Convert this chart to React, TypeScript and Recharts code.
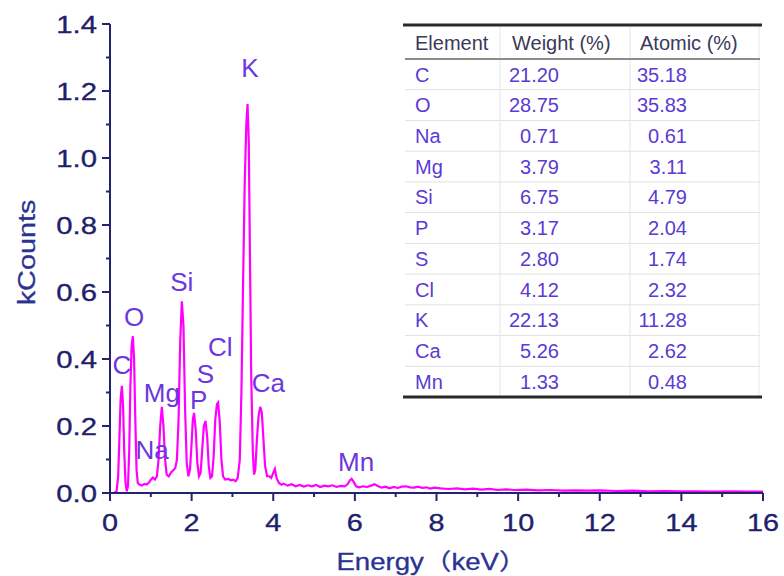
import React from "react";
import { ComposedChart, Line, XAxis, YAxis, ReferenceDot } from "recharts";

// ---- spectrum (energy keV, kCounts) ----
const energy = [
  0.0, 0.1, 0.16, 0.2, 0.23, 0.26, 0.29, 0.32, 0.35, 0.38, 0.41, 0.44, 0.47, 0.5, 0.53, 0.56, 0.59, 0.62, 0.65, 0.68,
  0.72, 0.78, 0.84, 0.9, 0.96, 1.0, 1.05, 1.1, 1.15, 1.19, 1.23, 1.27, 1.31, 1.35, 1.39, 1.44, 1.5, 1.55, 1.6, 1.64,
  1.68, 1.72, 1.76, 1.8, 1.84, 1.88, 1.92, 1.96, 2.0, 2.03, 2.06, 2.1, 2.14, 2.18, 2.22, 2.26, 2.3, 2.34, 2.38, 2.42,
  2.46, 2.5, 2.54, 2.58, 2.62, 2.65, 2.69, 2.73, 2.77, 2.82, 2.9, 2.96, 3.02, 3.08, 3.13, 3.18, 3.22, 3.26, 3.3, 3.34,
  3.37, 3.4, 3.43, 3.46, 3.5, 3.53, 3.56, 3.6, 3.64, 3.68, 3.72, 3.76, 3.8, 3.85, 3.9, 3.95, 4.0, 4.04, 4.08, 4.14,
  4.2, 4.25, 4.35, 4.45, 4.55, 4.65, 4.75, 4.85, 4.95, 5.05, 5.15, 5.25, 5.35, 5.45, 5.55, 5.65, 5.75, 5.82, 5.88, 5.92,
  5.97, 6.03, 6.1, 6.2, 6.3, 6.4, 6.48, 6.55, 6.65, 6.75, 6.85, 6.95, 7.05, 7.15, 7.25, 7.35, 7.45, 7.55, 7.65, 7.75,
  7.85, 7.95, 8.1, 8.3, 8.5, 8.7, 8.9, 9.1, 9.3, 9.5, 9.7, 9.9, 10.2, 10.5, 10.8, 11.1, 11.4, 11.7, 12.0, 12.4,
  12.8, 13.2, 13.6, 14.0, 14.4, 14.8, 15.2, 15.6, 16.0,
];
const kCounts = [
  0.0, 0.0, 0.005, 0.05, 0.16, 0.28, 0.32, 0.26, 0.12, 0.03, 0.005, 0.02, 0.12, 0.32, 0.44, 0.468, 0.4, 0.22, 0.07, 0.03,
  0.025, 0.022, 0.027, 0.025, 0.032, 0.04, 0.046, 0.04, 0.05, 0.1, 0.2, 0.257, 0.2, 0.1, 0.055, 0.05, 0.062, 0.068, 0.075, 0.1,
  0.22, 0.45, 0.572, 0.5, 0.25, 0.09, 0.05, 0.07, 0.15, 0.22, 0.239, 0.19, 0.09, 0.05, 0.06, 0.13, 0.2, 0.215, 0.17, 0.08,
  0.045, 0.05, 0.11, 0.22, 0.265, 0.27, 0.21, 0.1, 0.05, 0.04, 0.042, 0.038, 0.04, 0.035, 0.045, 0.1, 0.3, 0.62, 0.92, 1.1,
  1.161, 1.05, 0.7, 0.35, 0.12, 0.055, 0.07, 0.16, 0.23, 0.257, 0.24, 0.16, 0.08, 0.05, 0.05, 0.045, 0.06, 0.072, 0.045, 0.03,
  0.025, 0.028, 0.022, 0.026, 0.02, 0.024, 0.019, 0.023, 0.02, 0.024, 0.018, 0.022, 0.02, 0.023, 0.018, 0.021, 0.02, 0.026, 0.038, 0.042,
  0.033, 0.02, 0.017, 0.02, 0.018, 0.022, 0.026, 0.022, 0.016, 0.019, 0.014, 0.018, 0.015, 0.019, 0.02, 0.017, 0.016, 0.019, 0.015, 0.017,
  0.013, 0.016, 0.014, 0.012, 0.014, 0.011, 0.013, 0.01, 0.012, 0.009, 0.011, 0.009, 0.01, 0.008, 0.009, 0.007, 0.008, 0.007, 0.008, 0.006,
  0.007, 0.005, 0.006, 0.005, 0.005, 0.004, 0.005, 0.004, 0.004,
];

// ---- peak labels (energy, kCounts at label centre) ----
const peakNames = ["C", "O", "Na", "Mg", "Si", "P", "S", "Cl", "K", "Ca", "Mn"];
const peakLabelX = [0.29, 0.59, 1.03, 1.27, 1.76, 2.17, 2.34, 2.7, 3.43, 3.88, 6.03];
const peakLabelY = [0.381, 0.525, 0.128, 0.3, 0.63, 0.279, 0.356, 0.436, 1.27, 0.327, 0.093];

// ---- axis ticks ----
const xTicks = [0, 1, 2, 3, 4, 5, 6, 7, 8, 9, 10, 11, 12, 13, 14, 15, 16];
const yTicks = [0, 0.1, 0.2, 0.3, 0.4, 0.5, 0.6, 0.7, 0.8, 0.9, 1.0, 1.1, 1.2, 1.3, 1.4];

// ---- composition table ----
const tableHeader = ["Element", "Weight (%)", "Atomic (%)"];
const elements = ["C", "O", "Na", "Mg", "Si", "P", "S", "Cl", "K", "Ca", "Mn"];
const weightPct = ["21.20", "28.75", "0.71", "3.79", "6.75", "3.17", "2.80", "4.12", "22.13", "5.26", "1.33"];
const atomicPct = ["35.18", "35.83", "0.61", "3.11", "4.79", "2.04", "1.74", "2.32", "11.28", "2.62", "0.48"];

const spectrum = energy.map((e, i) => ({ e, c: kCounts[i] }));

const FONT = "'Liberation Sans', Arial, 'Noto Sans CJK SC', sans-serif";
const AXIS = "#23236f";
const TICK_TXT = "#1f1f6c";
const TITLE = "#2a3393";
const PEAK = "#6a38dc";
const LINE = "#ff00ff";
const TM = 10;

const XTick = (props: any) => {
  const { x, y, payload } = props;
  const v = payload.value;
  const major = v % 2 === 0;
  const axisY = y - TM;
  return (
    <g>
      <line x1={x} x2={x} y1={axisY} y2={axisY + (major ? 8 : 4)} stroke={AXIS} strokeWidth={2} />
      {major && (
        <text
          transform={`translate(${x},${axisY + 38}) scale(1.2,1)`}
          textAnchor="middle"
          fontFamily={FONT}
          fontSize={24}
          fill={TICK_TXT}
          stroke={TICK_TXT}
          strokeWidth={0.35}
        >
          {String(v)}
        </text>
      )}
    </g>
  );
};

const YTick = (props: any) => {
  const { x, y, payload } = props;
  const v = payload.value;
  const major = Math.round(v * 10) % 2 === 0;
  const axisX = x + TM;
  return (
    <g>
      <line x1={axisX - (major ? 8 : 4)} x2={axisX} y1={y} y2={y} stroke={AXIS} strokeWidth={2} />
      {major && (
        <text
          transform={`translate(${axisX - 13},${y + 8.5}) scale(1.22,1)`}
          textAnchor="end"
          fontFamily={FONT}
          fontSize={24}
          fill={TICK_TXT}
          stroke={TICK_TXT}
          strokeWidth={0.35}
        >
          {v.toFixed(1)}
        </text>
      )}
    </g>
  );
};

const PeakLabel = (text: string) => (p: any) => (
  <text
    transform={`translate(${p.cx},${p.cy + 9})`}
    textAnchor="middle"
    fontFamily={FONT}
    fontSize={26}
    fill={PEAK}
  >
    {text}
  </text>
);

const YTitle = (p: any) => {
  const vb = p.viewBox;
  const cx = vb.x - 13;
  const cy = vb.y + vb.height / 2 - 6;
  return (
    <text
      transform={`translate(${cx},${cy}) rotate(-90) scale(1.2,1)`}
      textAnchor="middle"
      dominantBaseline="central"
      fontFamily={FONT}
      fontSize={24}
      fill={TITLE}
      stroke={TITLE}
      strokeWidth={0.3}
    >
      kCounts
    </text>
  );
};

const XTitle = (p: any) => {
  const vb = p.viewBox;
  const cx = vb.x + vb.width / 2 - 5;
  const cy = vb.y + 77;
  return (
    <text
      transform={`translate(${cx},${cy}) scale(1.2,1)`}
      textAnchor="middle"
      fontFamily={FONT}
      fontSize={23}
      fill={TITLE}
      stroke={TITLE}
      strokeWidth={0.3}
    >
      Energy（keV）
    </text>
  );
};

const Table = () => {
  const left = 405;
  const right = 760;
  const top = 25;
  const headBottom = 59;
  const bottom = 397;
  const rowH = (bottom - headBottom) / elements.length;
  const col1 = 500;
  const col2 = 630;
  return (
    <svg width={784} height={576} style={{ position: "absolute", left: 0, top: 0, pointerEvents: "none" }}>
      <rect x={left} y={top} width={right - left} height={bottom - top} fill="#ffffff" />
      {elements.map((_, i) =>
        i > 0 ? (
          <line key={"h" + i} x1={left} x2={right} y1={headBottom + i * rowH} y2={headBottom + i * rowH} stroke="#e2e2e2" strokeWidth={1} />
        ) : null
      )}
      <line x1={col1} x2={col1} y1={top} y2={bottom} stroke="#e4e4e4" strokeWidth={1} />
      <line x1={col2} x2={col2} y1={top} y2={bottom} stroke="#e4e4e4" strokeWidth={1} />
      <line x1={right - 1} x2={right - 1} y1={top} y2={bottom} stroke="#e8e8e8" strokeWidth={1} />
      <line x1={left} x2={right} y1={headBottom} y2={headBottom} stroke="#8c8c8c" strokeWidth={2} />
      <line x1={left - 2} x2={right + 2} y1={top} y2={top} stroke="#2a2a2a" strokeWidth={3} />
      <line x1={left - 2} x2={right + 2} y1={bottom} y2={bottom} stroke="#2a2a2a" strokeWidth={3} />
      <g fontFamily={FONT} fontSize={20}>
        <text x={415} y={50} fill="#3a3a58">{tableHeader[0]}</text>
        <text x={512} y={50} fill="#3a3a58">{tableHeader[1]}</text>
        <text x={640} y={50} fill="#3a3a58">{tableHeader[2]}</text>
        {elements.map((el, i) => {
          const by = headBottom + i * rowH + rowH / 2 + 7.2;
          return (
            <g key={el} fill="#5b3bd2">
              <text x={415} y={by}>{el}</text>
              <text x={559} y={by} textAnchor="end">{weightPct[i]}</text>
              <text x={687} y={by} textAnchor="end">{atomicPct[i]}</text>
            </g>
          );
        })}
      </g>
    </svg>
  );
};

export default function App() {
  return (
    <div style={{ position: "relative", width: 784, height: 576, background: "#fff" }}>
      <style>{"body{margin:0}"}</style>
      <ComposedChart width={784} height={576} data={spectrum} margin={{ top: 24, right: 21, left: 40, bottom: 33 }}>
        <XAxis
          dataKey="e"
          type="number"
          domain={[0, 16]}
          ticks={xTicks}
          interval={0}
          tickSize={0}
          tickMargin={TM}
          tick={<XTick />}
          axisLine={{ stroke: AXIS, strokeWidth: 2 }}
          height={50}
          allowDataOverflow
          label={<XTitle />}
        />
        <YAxis
          type="number"
          domain={[0, 1.4]}
          ticks={yTicks}
          interval={0}
          tickSize={0}
          tickMargin={TM}
          tick={<YTick />}
          axisLine={{ stroke: AXIS, strokeWidth: 2 }}
          width={70}
          allowDataOverflow
          label={<YTitle />}
        />
        <Line
          dataKey="c"
          type="linear"
          stroke={LINE}
          strokeWidth={2.2}
          dot={false}
          activeDot={false}
          isAnimationActive={false}
        />
        {peakNames.map((n, i) => (
          <ReferenceDot key={n} x={peakLabelX[i]} y={peakLabelY[i]} r={0} shape={PeakLabel(n)} ifOverflow="visible" />
        ))}
      </ComposedChart>
      <Table />
    </div>
  );
}
